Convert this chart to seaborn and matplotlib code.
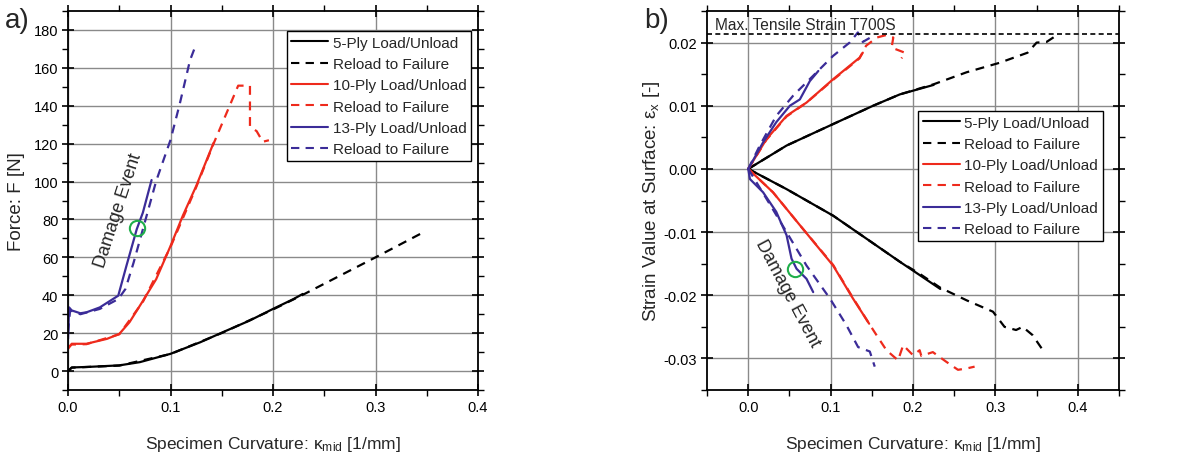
import matplotlib
matplotlib.use("Agg")
import matplotlib.pyplot as plt
import matplotlib.ticker as ticker
from matplotlib.lines import Line2D
import seaborn as sns
import numpy as np

# ---- panel a) force vs curvature ----
k5_load = [0, 0.0036, 0.02, 0.05, 0.07, 0.1, 0.129, 0.151, 0.177, 0.2, 0.22, 0.229]
f5_load = [0, 1.9, 2.2, 3.0, 4.7, 9.1, 15.2, 20.5, 26.6, 32.8, 38.0, 40.7]
k5_fail = [0, 0.0036, 0.05, 0.1, 0.151, 0.2, 0.23, 0.3, 0.348]
f5_fail = [0, 1.8, 2.9, 9.0, 20.3, 32.5, 40.5, 60.0, 73.6]

k10_load = [0, 0.0036, 0.018, 0.038, 0.05, 0.06, 0.073, 0.086, 0.1, 0.112, 0.125, 0.142]
f10_load = [11.7, 14.4, 14.4, 17.0, 19.6, 25.8, 37.0, 48.5, 66.0, 82.0, 97.6, 120.4]
k10_fail = [0, 0.0036, 0.018, 0.05, 0.073, 0.1, 0.125, 0.142, 0.166, 0.1775, 0.1775, 0.184, 0.19, 0.196]
f10_fail = [12.5, 14.0, 14.2, 19.4, 36.5, 65.5, 97.0, 120.0, 150.6, 150.6, 129.0, 126.6, 121.0, 121.8]

k13_load = [0, 0.001, 0.0036, 0.012, 0.018, 0.031, 0.049, 0.057, 0.067, 0.073, 0.0815]
f13_load = [17.0, 33.6, 32.0, 30.5, 31.0, 33.6, 39.8, 55.6, 74.8, 83.6, 100.8]
k13_fail = [0, 0.002, 0.012, 0.031, 0.049, 0.056, 0.064, 0.073, 0.086, 0.1, 0.109, 0.119, 0.125]
f13_fail = [20.5, 32.0, 30.0, 32.8, 38.0, 43.3, 57.3, 74.8, 100.3, 122.0, 141.0, 164.0, 172.5]

dmg_a = (0.0676, 75.5)

# ---- panel b) surface strain vs curvature (upper / lower surface) ----
k5_up = [0, 0.0465, 0.103, 0.1515, 0.184, 0.225]
e5_up = [0, 0.0037, 0.0071, 0.0100, 0.0118, 0.0133]
k5_up_f = [0, 0.0465, 0.103, 0.1515, 0.184, 0.225, 0.265, 0.305, 0.339, 0.35, 0.362, 0.376]
e5_up_f = [0, 0.0037, 0.0071, 0.0100, 0.0118, 0.0134, 0.0153, 0.0168, 0.0184, 0.0200, 0.0201, 0.0213]
k5_lo = [0, 0.0465, 0.103, 0.143, 0.184, 0.208, 0.233]
e5_lo = [0, -0.0032, -0.0074, -0.0110, -0.0147, -0.0168, -0.0190]
k5_lo_f = [0, 0.0465, 0.103, 0.143, 0.184, 0.208, 0.233, 0.265, 0.297, 0.311, 0.325, 0.333, 0.345, 0.356]
e5_lo_f = [0, -0.0032, -0.0074, -0.0110, -0.0147, -0.0166, -0.0188, -0.0208, -0.0226, -0.0250,
           -0.0255, -0.0250, -0.0263, -0.0284]

k10_up = [0, 0.022, 0.0465, 0.0707, 0.103, 0.135, 0.139]
e10_up = [0, 0.0047, 0.0084, 0.0105, 0.0142, 0.0176, 0.0184]
k10_up_f = [0, 0.022, 0.0465, 0.0707, 0.103, 0.135, 0.143, 0.156, 0.1677, 0.176, 0.174, 0.184, 0.19, 0.186]
e10_up_f = [0, 0.0046, 0.0083, 0.0105, 0.0141, 0.0175, 0.0195, 0.0208, 0.0212, 0.0208, 0.0192,
            0.0187, 0.0184, 0.0175]
k10_lo = [0, 0.03, 0.0626, 0.103, 0.127, 0.1467]
e10_lo = [0, -0.0037, -0.0089, -0.0153, -0.0205, -0.0245]
k10_lo_f = [0, 0.03, 0.0626, 0.103, 0.127, 0.1467, 0.1556, 0.1677, 0.1818, 0.188, 0.2, 0.208, 0.21,
            0.224, 0.24, 0.2545, 0.2646, 0.2747]
e10_lo_f = [0, -0.0037, -0.0089, -0.0152, -0.0204, -0.0245, -0.0263, -0.0287, -0.0303, -0.0279,
            -0.0295, -0.0287, -0.0296, -0.0290, -0.0305, -0.0318, -0.0316, -0.0313]

k13_up = [0, 0.018, 0.034, 0.0505, 0.0626, 0.0747, 0.085]
e13_up = [0, 0.0042, 0.0074, 0.0100, 0.0110, 0.0139, 0.0155]
k13_up_f = [0, 0.014, 0.034, 0.0545, 0.083, 0.103, 0.123, 0.133, 0.139, 0.1535]
e13_up_f = [0, 0.0037, 0.0084, 0.0116, 0.0153, 0.0179, 0.0200, 0.0216, 0.0201, 0.0212]
k13_lo = [0, 0.002, 0.018, 0.034, 0.0465, 0.0525, 0.0586, 0.0707, 0.0788]
e13_lo = [0, -0.0016, -0.0037, -0.0068, -0.0105, -0.0142, -0.0158, -0.0174, -0.0195]
k13_lo_f = [0, 0.022, 0.0465, 0.0707, 0.099, 0.119, 0.1333, 0.1475, 0.1535]
e13_lo_f = [0, -0.0047, -0.0100, -0.0153, -0.0205, -0.0247, -0.0282, -0.0289, -0.0313]

dmg_b = (0.0566, -0.0158)
max_strain = 0.0213

legend_labels = ["5-Ply Load/Unload", "Reload to Failure", "10-Ply Load/Unload",
                 "Reload to Failure", "13-Ply Load/Unload", "Reload to Failure"]

BLACK, RED, BLUE, GREEN = "black", "#ee2a1c", "#3b2c98", "#1fae4a"
DASH = (0, (4, 3))

sns.set_theme(style="white")
plt.rcParams['font.family'] = ['Liberation Sans', 'DejaVu Sans']
plt.rcParams['mathtext.fontset'] = 'custom'
plt.rcParams['mathtext.rm'] = 'Liberation Sans'
plt.rcParams['mathtext.it'] = 'Liberation Sans'

fig = plt.figure(figsize=(11.98, 4.56), dpi=100)
ax1 = fig.add_axes([0.0568, 0.1425, 0.3422, 0.8312])
ax2 = fig.add_axes([0.5902, 0.1425, 0.3439, 0.8312])


def draw(ax, x, y, color, dashed):
    sns.lineplot(x=np.array(x), y=np.array(y), ax=ax, sort=False, estimator=None,
                 color=color, linewidth=1.6, linestyle=DASH if dashed else '-')


# panel a
for x, y, c, d in [(k5_fail, f5_fail, BLACK, True), (k5_load, f5_load, BLACK, False),
                   (k10_fail, f10_fail, RED, True), (k10_load, f10_load, RED, False),
                   (k13_fail, f13_fail, BLUE, True), (k13_load, f13_load, BLUE, False)]:
    draw(ax1, x, y, c, d)
ax1.plot(*dmg_a, 'o', mfc='none', mec=GREEN, mew=1.5, ms=11)
ax1.text(0.049, 85, "Damage Event", rotation=72, ha='center', va='center', fontsize=13)

# panel b
for x, y, c, d in [(k5_up_f, e5_up_f, BLACK, True), (k5_up, e5_up, BLACK, False),
                   (k5_lo_f, e5_lo_f, BLACK, True), (k5_lo, e5_lo, BLACK, False),
                   (k10_up_f, e10_up_f, RED, True), (k10_up, e10_up, RED, False),
                   (k10_lo_f, e10_lo_f, RED, True), (k10_lo, e10_lo, RED, False),
                   (k13_up_f, e13_up_f, BLUE, True), (k13_up, e13_up, BLUE, False),
                   (k13_lo_f, e13_lo_f, BLUE, True), (k13_lo, e13_lo, BLUE, False)]:
    draw(ax2, x, y, c, d)
ax2.plot(*dmg_b, 'o', mfc='none', mec=GREEN, mew=1.5, ms=11)
ax2.text(0.047, -0.0196, "Damage Event", rotation=-62, ha='center', va='center', fontsize=13)
ax2.axhline(max_strain, color='black', linewidth=1.2, linestyle=(0, (3, 2)))
ax2.text(-0.04, 0.0217, "Max. Tensile Strain T700S", fontsize=11.2, va='bottom', ha='left')

ax1.set_xlim(0, 0.4)
ax1.set_ylim(-10, 190)
ax1.xaxis.set_major_locator(ticker.MultipleLocator(0.1))
ax1.xaxis.set_minor_locator(ticker.MultipleLocator(0.05))
ax1.yaxis.set_major_locator(ticker.MultipleLocator(20))
ax1.yaxis.set_minor_locator(ticker.MultipleLocator(10))
ax1.xaxis.set_major_formatter(ticker.FormatStrFormatter('%.1f'))
ax1.set_ylabel("Force: F [N]", fontsize=13.5)
ax1.yaxis.set_label_coords(-0.105, 0.5)

ax2.set_xlim(-0.05, 0.45)
ax2.set_ylim(-0.035, 0.025)
ax2.xaxis.set_major_locator(ticker.FixedLocator([0, 0.1, 0.2, 0.3, 0.4]))
ax2.xaxis.set_minor_locator(ticker.MultipleLocator(0.05))
ax2.yaxis.set_major_locator(ticker.MultipleLocator(0.01))
ax2.yaxis.set_minor_locator(ticker.MultipleLocator(0.005))
ax2.xaxis.set_major_formatter(ticker.FormatStrFormatter('%.1f'))
ax2.yaxis.set_major_formatter(ticker.FormatStrFormatter('%.2f'))
ax2.set_ylabel(r"Strain Value at Surface: $\mathrm{\varepsilon_x}$ [-]", fontsize=13.5)
ax2.yaxis.set_label_coords(-0.109, 0.5)

handles = [Line2D([], [], color=BLACK, lw=1.5),
           Line2D([], [], color=BLACK, lw=1.5, linestyle=DASH),
           Line2D([], [], color=RED, lw=1.5),
           Line2D([], [], color=RED, lw=1.5, linestyle=DASH),
           Line2D([], [], color=BLUE, lw=1.5),
           Line2D([], [], color=BLUE, lw=1.5, linestyle=DASH)]

for ax, anchor in [(ax1, (0.983, 0.947)), (ax2, (0.960, 0.736))]:
    ax.set_xlabel(r"Specimen Curvature: $\mathrm{\kappa_{mid}}$ [1/mm]", fontsize=12.5)
    ax.xaxis.set_label_coords(0.5, -0.115)
    ax.grid(True, which='major', color='#8a8a8a', linewidth=1.0)
    ax.set_axisbelow(True)
    for s in ax.spines.values():
        s.set_visible(True)
        s.set_color('black')
        s.set_linewidth(1.3)
    ax.tick_params(which='both', top=True, right=True, bottom=True, left=True,
                   labelsize=10.5, colors='black')
    ax.tick_params(which='major', direction='inout', length=8, width=1.2, pad=3)
    ax.tick_params(which='minor', direction='out', length=4, width=1.0)
    leg = ax.legend(handles, legend_labels, loc='upper right', bbox_to_anchor=anchor,
                    borderaxespad=0, fancybox=False, framealpha=1, edgecolor='black',
                    fontsize=11, handlelength=2.4, handletextpad=0.3,
                    labelspacing=0.48, borderpad=0.3)
    leg.get_frame().set_linewidth(1.0)

fig.text(0.004, 0.955, "a)", fontsize=20, va='center')
fig.text(0.538, 0.955, "b)", fontsize=20, va='center')

fig.savefig("out.png", dpi=100)
